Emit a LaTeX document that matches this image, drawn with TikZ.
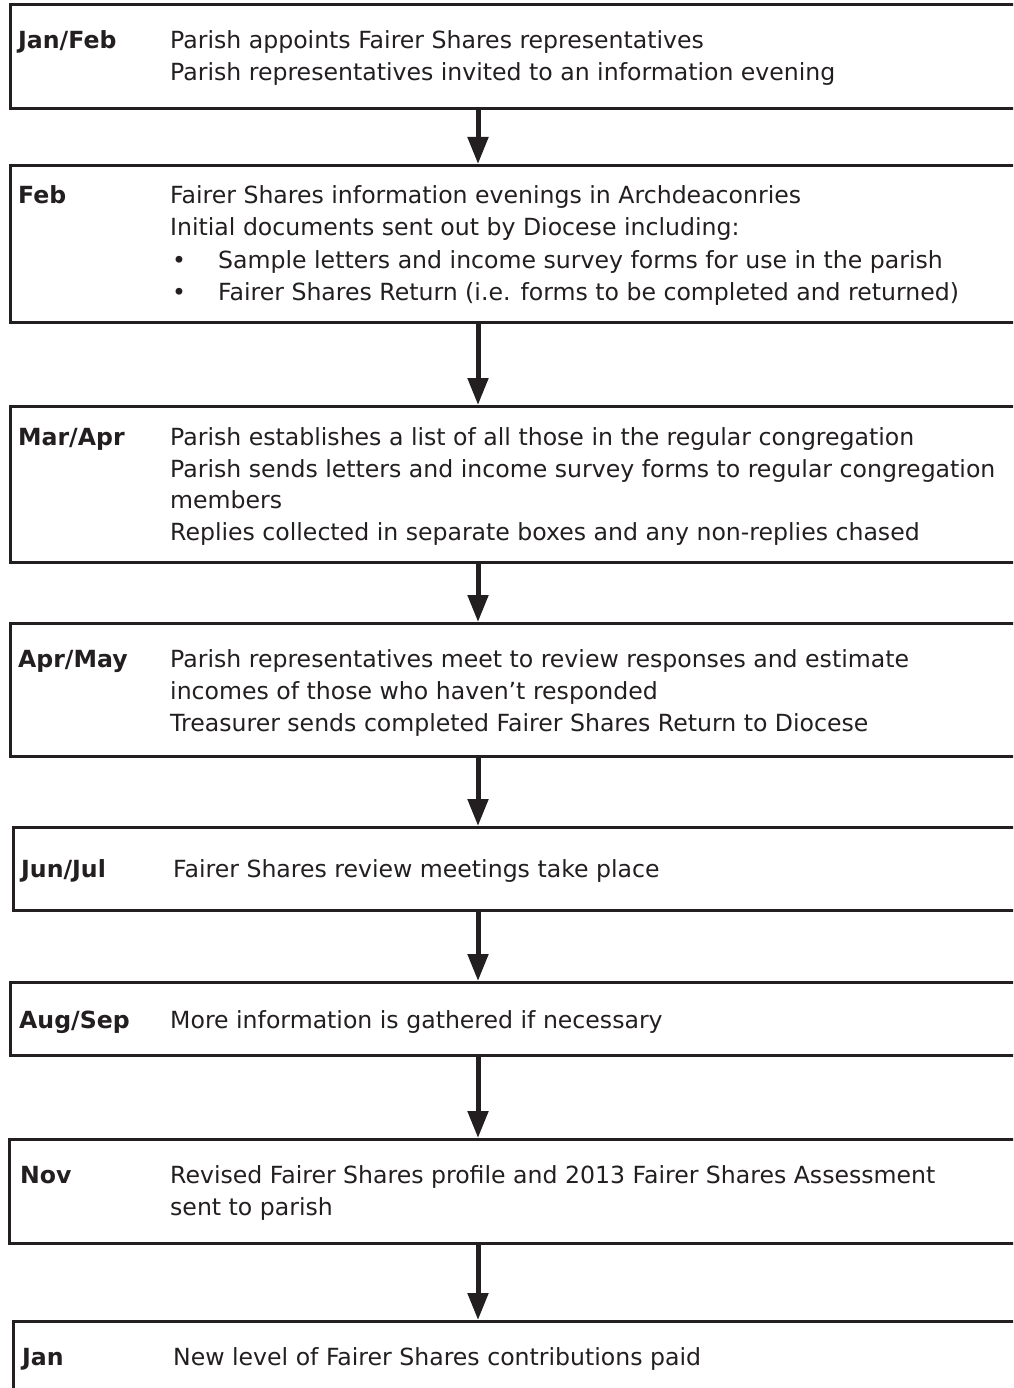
\documentclass[tikz,border=0pt]{standalone}
\usepackage{fontspec}
\setmainfont{DejaVu Sans}
\usetikzlibrary{arrows.meta}
\definecolor{ink}{HTML}{231F20}
\begin{document}
\begin{tikzpicture}[x=1pt,y=-1pt,
  box/.style={draw=ink,line width=3pt,inner sep=0pt,anchor=north west,minimum width=1100pt},
  lbl/.style={font=\fontsize{23.6}{32}\selectfont\bfseries,text=ink,inner sep=0pt,anchor=base west},
  txt/.style={font=\fontsize{23.6}{32}\selectfont,text=ink,inner sep=0pt,anchor=base west},
  arr/.style={draw=ink,line width=5pt,-{Triangle[width=20pt,length=27pt]}}]
\useasboundingbox (0,0) rectangle (1013,1388);
\clip (0,0) rectangle (1013,1388);
\fill[white] (0,0) rectangle (1013,1388);
% boxes
\node[box,minimum height=104pt] (b1) at (9,3) {};
\node[box,minimum height=157pt] (b2) at (9,164) {};
\node[box,minimum height=156pt] (b3) at (9,405) {};
\node[box,minimum height=133pt] (b4) at (9,622) {};
\node[box,minimum height=83pt] (b5) at (12,826) {};
\node[box,minimum height=73pt] (b6) at (9,981) {};
\node[box,minimum height=104pt] (b7) at (8,1138) {};
\node[box,minimum height=120pt] (b8) at (12,1320) {};
% arrows
\coordinate (ax) at (478,0);
\draw[arr] (b1.south -| ax) -- (b2.north -| ax);
\draw[arr] (b2.south -| ax) -- (b3.north -| ax);
\draw[arr] (b3.south -| ax) -- (b4.north -| ax);
\draw[arr] (b4.south -| ax) -- (b5.north -| ax);
\draw[arr] (b5.south -| ax) -- (b6.north -| ax);
\draw[arr] (b6.south -| ax) -- (b7.north -| ax);
\draw[arr] (b7.south -| ax) -- (b8.north -| ax);
% box 1
\node[lbl] (l1) at (18,49) {Jan/Feb};
\node[txt] (t1a) at (170,49) {Parish appoints Fairer Shares representatives};
\node[txt] (t1b) at (170,81) {Parish representatives invited to an information evening};
% box 2
\node[lbl] (l2) at (18,204) {Feb};
\node[txt] (t2a) at (170,204) {Fairer Shares information evenings in Archdeaconries};
\node[txt] (t2b) at (170,236) {Initial documents sent out by Diocese including:};
\node[txt] (d2c) at (172,268) {•};
\node[txt] (t2c) at (218,268) {Sample letters and income survey forms for use in the parish};
\node[txt] (d2d) at (172,300) {•};
\node[txt] (t2d) at (218,300) {Fairer Shares Return (i.e. forms to be completed and returned)};
% box 3
\node[lbl] (l3) at (18,445) {Mar/Apr};
\node[txt] (t3a) at (170,445) {Parish establishes a list of all those in the regular congregation};
\node[txt] (t3b) at (170,477) {Parish sends letters and income survey forms to regular congregation};
\node[txt] (t3c) at (170,508) {members};
\node[txt] (t3d) at (170,540) {Replies collected in separate boxes and any non-replies chased};
% box 4
\node[lbl] (l4) at (18,667) {Apr/May};
\node[txt] (t4a) at (170,667) {Parish representatives meet to review responses and estimate};
\node[txt] (t4b) at (170,699) {incomes of those who haven’t responded};
\node[txt] (t4c) at (170,731) {Treasurer sends completed Fairer Shares Return to Diocese};
% box 5
\node[lbl] (l5) at (21,877) {Jun/Jul};
\node[txt] (t5a) at (173,877) {Fairer Shares review meetings take place};
% box 6
\node[lbl] (l6) at (19,1028) {Aug/Sep};
\node[txt] (t6a) at (170,1028) {More information is gathered if necessary};
% box 7
\node[lbl] (l7) at (20,1183) {Nov};
\node[txt] (t7a) at (170,1183) {Revised Fairer Shares profile and 2013 Fairer Shares Assessment};
\node[txt] (t7b) at (170,1215) {sent to parish};
% box 8
\node[lbl] (l8) at (22,1365) {Jan};
\node[txt] (t8a) at (173,1365) {New level of Fairer Shares contributions paid};
\end{tikzpicture}
\end{document}
